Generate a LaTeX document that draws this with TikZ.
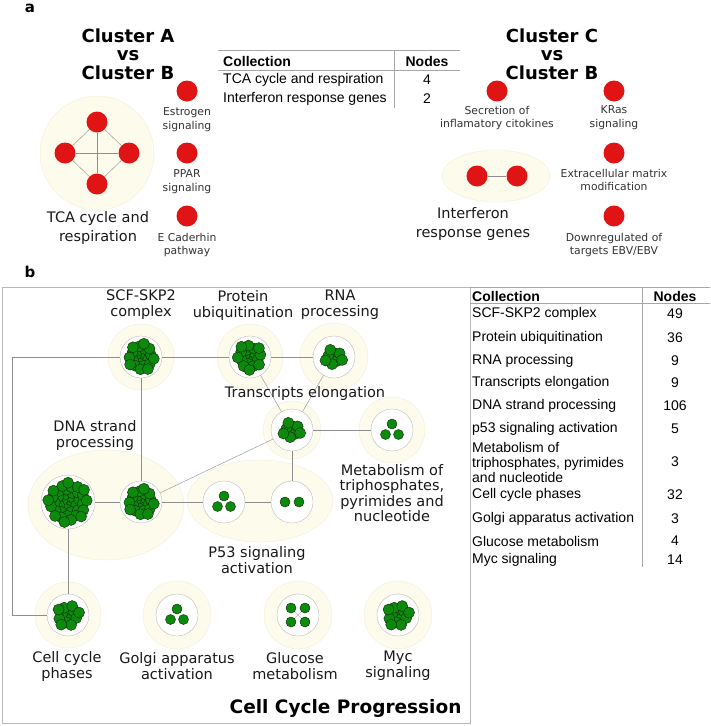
\documentclass[tikz,border=0pt]{standalone}
\usepackage{fontspec}
\setmainfont{DejaVu Sans}
\newfontfamily\tabfont{Liberation Sans}
\usetikzlibrary{positioning,shapes.geometric}
\definecolor{nodered}{HTML}{E01414}
\definecolor{halo}{HTML}{FCFBEC}
\definecolor{haloedge}{HTML}{F0EEDA}
\definecolor{dotgreen}{HTML}{0B8A0B}
\definecolor{dotedge}{HTML}{0E300E}
\definecolor{linkgray}{HTML}{8E8E8E}
\definecolor{framegray}{HTML}{B8B8B8}
\tikzset{reddot/.style={circle, fill=nodered, minimum size=21pt, inner sep=0},
  haloring/.style={circle, fill=halo, draw=haloedge, thin, inner sep=0},
  haloblob/.style={ellipse, fill=halo, draw=haloedge, thin, inner sep=0},
  hub/.style={circle, fill=white, draw=gray!80, very thin, minimum size=42pt, inner sep=0},
  link/.style={draw=linkgray, thin},
  gdot/.style={fill=dotgreen, draw=dotedge, line width=0.45pt},
  heading/.style={align=center, font=\fontsize{18}{18.5}\selectfont\bfseries},
  biglbl/.style={align=center, inner sep=0, text=black!90, font=\fontsize{14.5}{16}\selectfont},
  smalllbl/.style={align=center, inner sep=0, text=black!80, font=\fontsize{10.8}{13.5}\selectfont},
  tabtxt/.style={inner sep=0, font=\tabfont\fontsize{14}{15}\selectfont},
  tabhead/.style={inner sep=0, font=\tabfont\fontsize{14}{15}\selectfont\bfseries},
}
% sunflower packing of green dots round a node
\newcommand{\dotcluster}[3]{%
  \foreach \k in {1,...,#2}{%
    \pgfmathsetmacro{\dotr}{#3*sqrt((\k-0.5)/#2)}%
    \pgfmathsetmacro{\dota}{\k*137.508}%
    \filldraw[gdot] (#1) ++(\dota:\dotr) circle (5.5);
  }}
\newcommand{\dottri}[1]{%
  \filldraw[gdot] (#1) ++(0,-6) circle (5);
  \filldraw[gdot] (#1) ++(-6.5,4.5) circle (5);
  \filldraw[gdot] (#1) ++(6.5,4.5) circle (5);}

\begin{document}
\begin{tikzpicture}[x=1pt,y=-1pt]
\useasboundingbox (0,0) rectangle (710,726);

%% panel a
\node[font=\fontsize{15}{15}\selectfont\bfseries] (pa) at (30,8) {a};
\node[heading] (titleab) at (128,54) {Cluster A\\vs\\Cluster B};
\node[haloring, minimum size=114pt] (tcabg) at (97,153) {};
\node[reddot] (t1) at (97,122) {};
\node[reddot] (t2) at (65,153) {};
\node[reddot] (t3) at (129,153) {};
\node[reddot] (t4) at (97,184) {};
\foreach \a/\b in {t1/t2, t1/t3, t1/t4, t2/t3, t2/t4, t3/t4}
  \draw[link] (\a) -- (\b);
\node[biglbl, font=\fontsize{14.5}{18.5}\selectfont] (tcalbl) at (98,228) {TCA cycle and\\respiration};

\node[reddot] (est) at (187,91) {};
\node[reddot] (ppar) at (187,153) {};
\node[reddot] (ecad) at (187,216) {};
\node[smalllbl, below=6pt of est] (estlbl) {Estrogen\\signaling};
\node[smalllbl, below=6pt of ppar] (pparlbl) {PPAR\\signaling};
\node[smalllbl, below=6pt of ecad] (ecadlbl) {E Caderhin\\pathway};

% table a
\draw[gray!70] (218,50) -- (460,50);
\draw[gray!70] (218,70) -- (460,70);
\draw[gray!70] (394,50) -- (394,108);
\node[tabhead, anchor=west] (colla) at (223,61) {Collection};
\node[tabhead] (nodesa) at (427,61) {Nodes};
\node[tabtxt, anchor=west] (rowa1) at (223,80) {TCA cycle and respiration};
\node[tabtxt] (numa1) at (427,80) {4};
\node[tabtxt, anchor=west] (rowa2) at (223,99) {Interferon response genes};
\node[tabtxt] (numa2) at (427,99) {2};

\node[heading] (titlecb) at (552,54) {Cluster C\\vs\\Cluster B};
\node[reddot] (sec) at (497,91) {};
\node[reddot] (kras) at (614,91) {};
\node[reddot] (ecm) at (614,153) {};
\node[reddot] (ebv) at (614,216) {};
\node[smalllbl, below=4pt of sec] (seclbl) {Secretion of\\inflamatory citokines};
\node[smalllbl, below=4pt of kras] (kraslbl) {KRas\\signaling};
\node[smalllbl, below=5pt of ecm] (ecmlbl) {Extracellular matrix\\modification};
\node[smalllbl, below=6pt of ebv] (ebvlbl) {Downregulated of\\targets EBV/EBV};
\node[haloblob, minimum width=108pt, minimum height=52pt] (ifnbg) at (496,176) {};
\node[reddot] (ifn1) at (477,176) {};
\node[reddot] (ifn2) at (517,176) {};
\draw[link] (ifn1) -- (ifn2);
\node[biglbl, font=\fontsize{14.5}{18.5}\selectfont] (ifnlbl) at (473,224) {Interferon\\response genes};

%% panel b
\node[font=\fontsize{15}{15}\selectfont\bfseries] (pb) at (30,272) {b};
\draw[framegray] (2,287) rectangle (470,723);

% table b
\draw[gray!70] (470,287) -- (710,287);
\draw[gray!70] (470,303) -- (710,303);
\draw[gray!70] (642,287) -- (642,567);
\node[tabhead, anchor=west] (collb) at (472,296) {Collection};
\node[tabhead] (nodesb) at (675,296) {Nodes};
\foreach \y/\name/\n in {314/SCF-SKP2 complex/49, 338/Protein ubiquitination/36,
    361/RNA processing/9, 383/Transcripts elongation/9, 406/DNA strand processing/106,
    429/p53 signaling activation/5, 495/Cell cycle phases/32,
    519/Golgi apparatus activation/3, 541/Glucose metabolism/4, 560/Myc signaling/14}{
  \node[tabtxt, anchor=west] at (472,\y) {\name};
  \node[tabtxt] at (675,\y) {\n};
}
\node[tabtxt, anchor=west, align=left] (rowmet) at (472,462) {Metabolism of\\triphosphates, pyrimides\\and nucleotide};
\node[tabtxt] (nummet) at (675,462) {3};

% halos
\node[haloblob, minimum width=156pt, minimum height=110pt] (dnabg) at (106,505) {};
\node[haloblob, minimum width=146pt, minimum height=82pt] (p53bg) at (260,501) {};
\node[haloring, minimum size=66pt] (scfbg) at (141,357) {};
\node[haloring, minimum size=66pt] (protbg) at (250,357) {};
\node[haloring, minimum size=68pt] (rnabg) at (334,357) {};
\node[haloring, minimum size=58pt] (trbg) at (292,430) {};
\node[haloring, minimum size=66pt] (metbg) at (392,430) {};
\node[haloring, minimum size=66pt] (ccpbg) at (68,615) {};
\node[haloring, minimum size=68pt] (golgibg) at (177,615) {};
\node[haloring, minimum size=68pt] (glubg) at (298,615) {};
\node[haloring, minimum size=68pt] (mycbg) at (398,615) {};

% hubs
\node[hub] (scf) at (141,357) {};
\node[hub] (prot) at (250,357) {};
\node[hub] (rna) at (334,357) {};
\node[hub] (tr) at (292,430) {};
\node[hub] (met) at (392,430) {};
\node[hub, minimum size=54pt] (dna1) at (68,502) {};
\node[hub] (dna2) at (141,502) {};
\node[hub] (p531) at (224,502) {};
\node[hub] (p532) at (292,502) {};
\node[hub] (ccp) at (68,615) {};
\node[hub] (golgi) at (177,615) {};
\node[hub] (glu) at (298,615) {};
\node[hub] (myc) at (398,615) {};

% connectors
\coordinate (lft) at (12,357);
\draw[link] (scf) -- (lft) |- (ccp.west);
\draw[link] (scf) -- (prot);
\draw[link] (prot) -- (rna);
\draw[link] (scf.south) -- (dna2.north);
\draw[link] (prot) -- (tr);
\draw[link] (rna) -- (tr);
\draw[link] (tr) -- (met);
\draw[link] (tr) -- (dna2);
\draw[link] (tr.south) -- (p532.north);
\draw[link] (dna1) -- (dna2);
\draw[link] (dna2) -- (p531);
\draw[link] (p531) -- (p532);
\draw[link] (dna1.south) -- (ccp.north);

% green members
\dotcluster{scf}{24}{14}
\dotcluster{prot}{20}{13.5}
\dotcluster{rna}{9}{9.5}
\dotcluster{tr}{9}{9.5}
\dotcluster{dna1}{40}{20.5}
\dotcluster{dna2}{24}{14}
\dotcluster{ccp}{14}{12}
\dotcluster{myc}{14}{12}
\dottri{met}
\dottri{golgi}
\dottri{p531}
\filldraw[gdot] (p532) ++(-7,0) circle (5);
\filldraw[gdot] (p532) ++(7,0) circle (5);
\draw[linkgray, very thin] (glu) ++(-7,-7) -- ++(14,14) ++(0,-14) -- ++(-14,14);
\foreach \dx/\dy in {-7/-7, 7/-7, -7/7, 7/7}
  \filldraw[gdot] (glu) ++(\dx,\dy) circle (5);

% labels
\node[biglbl] (scflbl) at (141,305) {SCF-SKP2\\complex};
\node[biglbl] (protlbl) at (243,305) {Protein\\ubiquitination};
\node[biglbl] (rnalbl) at (340,305) {RNA\\processing};
\node[biglbl] (trlbl) at (305,393) {Transcripts elongation};
\node[biglbl] (dnalbl) at (95,435) {DNA strand\\processing};
\node[biglbl, font=\fontsize{14.5}{15.5}\selectfont] (metlbl) at (392,493) {Metabolism of\\triphosphates,\\pyrimides and\\nucleotide};
\node[biglbl] (p53lbl) at (257,560) {P53 signaling\\activation};
\node[biglbl] (ccplbl) at (67,666) {Cell cycle\\phases};
\node[biglbl] (golgilbl) at (177,666) {Golgi apparatus\\activation};
\node[biglbl] (glulbl) at (295,666) {Glucose\\metabolism};
\node[biglbl] (myclbl) at (398,666) {Myc\\signaling};
\node[font=\fontsize{18.5}{18.5}\selectfont\bfseries, anchor=east] (ccprog) at (465,708) {Cell Cycle Progression};
\end{tikzpicture}
\end{document}
